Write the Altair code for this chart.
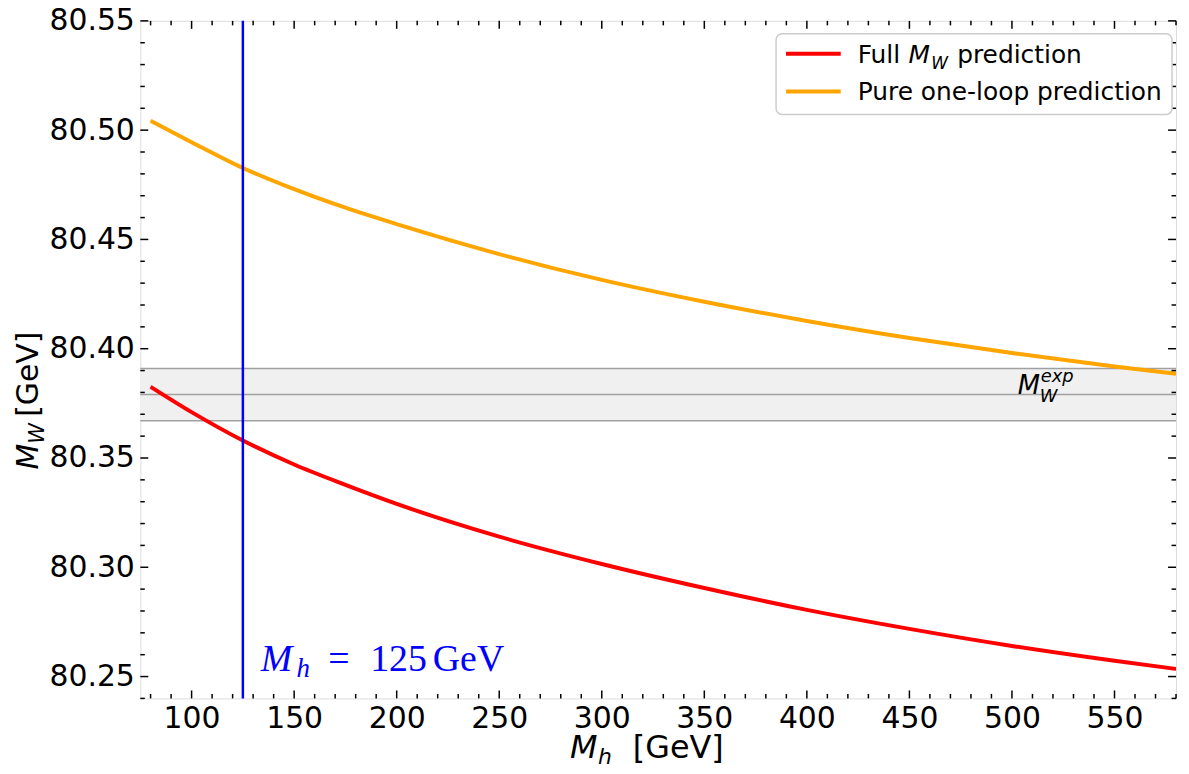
import altair as alt
import pandas as pd

# ---- data ----
mh = [80, 100, 125, 150, 175, 200, 250, 300, 350, 400, 450, 500, 550, 580]
mw_full = [80.3826, 80.371, 80.358, 80.347, 80.3377, 80.329, 80.314, 80.3015, 80.2905, 80.2805, 80.2718, 80.264, 80.2572, 80.2535]
mw_oneloop = [80.5043, 80.4945, 80.4827, 80.473, 80.4645, 80.457, 80.4433, 80.4315, 80.4215, 80.4127, 80.4049, 80.398, 80.3919, 80.3885]
series_names = ["Full", "Pure one-loop"]
series_colors = ["#ff0000", "#ffa500"]
mw_exp = 80.379
mw_exp_err = 0.012
mh_ref = 125
x_major = [100, 150, 200, 250, 300, 350, 400, 450, 500, 550]
x_minor = [v for v in range(80, 581, 10) if v % 50 != 0]
y_major = [80.25, 80.30, 80.35, 80.40, 80.45, 80.50, 80.55]
y_minor = [round(80.24 + 0.01 * i, 2) for i in range(32)]
y_minor = [v for v in y_minor if round(v * 100) % 5 != 0]
XDOM = [75, 580]
YDOM = [80.24, 80.55]

W, H = 1041, 681

rows = []
for name, vals in zip(series_names, [mw_full, mw_oneloop]):
    for x, y in zip(mh, vals):
        rows.append({"mh": x, "mw": y, "series": name})
df = pd.DataFrame(rows)

xs = alt.Scale(domain=XDOM, nice=False, zero=False)
ys = alt.Scale(domain=YDOM, nice=False, zero=False)

one = pd.DataFrame({"a": [0]})

band = alt.Chart(pd.DataFrame({"lo": [mw_exp - mw_exp_err], "hi": [mw_exp + mw_exp_err]})).mark_rect(
    color="#f0f0f0").encode(
    y=alt.Y("lo:Q", scale=ys), y2="hi:Q", x=alt.value(0), x2=alt.value(W))
band_lines = alt.Chart(pd.DataFrame({"v": [mw_exp - mw_exp_err, mw_exp, mw_exp + mw_exp_err]})).mark_rule(
    color="#a0a0a0", strokeWidth=1.5).encode(y=alt.Y("v:Q", scale=ys))

lines = alt.Chart(df).mark_line(strokeWidth=4, clip=True, interpolate="monotone").encode(
    x=alt.X("mh:Q", scale=xs,
            axis=alt.Axis(values=x_major, format="d", title=None, ticks=False, domain=False, grid=False,
                          labelFontSize=30, labelFont="DejaVu Sans", labelColor="black", labelPadding=5)),
    y=alt.Y("mw:Q", scale=ys,
            axis=alt.Axis(values=y_major, format=".2f", title=None, ticks=False, domain=False, grid=False,
                          labelFontSize=30, labelFont="DejaVu Sans", labelColor="black", labelPadding=6)),
    color=alt.Color("series:N", scale=alt.Scale(domain=series_names, range=series_colors), legend=None),
    order="mh:Q",
)

vline = alt.Chart(pd.DataFrame({"x": [mh_ref]})).mark_rule(color="#0000ff", strokeWidth=2.5).encode(
    x=alt.X("x:Q", scale=xs))

# ---- inward ticks on all four sides ----
def xticks(vals, length):
    d = pd.DataFrame({"v": vals})
    b = alt.Chart(d).mark_rule(color="black", strokeWidth=1.5).encode(
        x=alt.X("v:Q", scale=xs), y=alt.value(H), y2=alt.value(H - length))
    t = alt.Chart(d).mark_rule(color="black", strokeWidth=1.5).encode(
        x=alt.X("v:Q", scale=xs), y=alt.value(0), y2=alt.value(length))
    return [b, t]

def yticks(vals, length):
    d = pd.DataFrame({"v": vals})
    l = alt.Chart(d).mark_rule(color="black", strokeWidth=1.5).encode(
        y=alt.Y("v:Q", scale=ys), x=alt.value(0), x2=alt.value(length))
    r = alt.Chart(d).mark_rule(color="black", strokeWidth=1.5).encode(
        y=alt.Y("v:Q", scale=ys), x=alt.value(W), x2=alt.value(W - length))
    return [l, r]

ticks = xticks(x_major, 8) + xticks(x_minor, 4.5) + yticks(y_major, 8) + yticks(y_minor, 4.5)

# ---- text helper ----
def txt(s, x, y, size, italic=False, font="DejaVu Sans", color="black", angle=0, baseline="alphabetic"):
    props = dict(text=s, fontSize=size, font=font, color=color, baseline=baseline, align="left",
                 fontStyle="italic" if italic else "normal")
    if angle:
        props["angle"] = angle
    return alt.Chart(one).mark_text(**props).encode(x=alt.value(x), y=alt.value(y))

texts = []
# y-axis title (rotated)
texts += [
    txt("M", -103, 451, 30, italic=True, angle=270),
    txt("W", -97, 425, 21, italic=True, angle=270),
    txt("[GeV]", -103, 398, 30, angle=270),
]
# x-axis title
texts += [
    txt("M", 432, 741, 32, italic=True),
    txt("h", 460, 747, 22, italic=True),
    txt("[GeV]", 495, 741, 32),
]
# band label
texts += [
    txt("M", 882, 375, 26, italic=True),
    txt("W", 904, 383, 18, italic=True),
    txt("exp", 905, 363, 18, italic=True),
]
# blue annotation
blue = "#0000ff"
texts += [
    txt("M", 121, 653, 38, italic=True, font="Liberation Serif", color=blue),
    txt("h", 157, 659, 27, italic=True, font="Liberation Serif", color=blue),
    txt("=", 189, 653, 38, font="Liberation Serif", color=blue),
    txt("125", 231, 653, 38, font="Liberation Serif", color=blue),
    txt("GeV", 294, 653, 38, font="Liberation Serif", color=blue),
]

# ---- manual legend ----
legend_box = alt.Chart(one).mark_rect(fill="white", fillOpacity=0.85, stroke="#cccccc", strokeWidth=1.5,
                                      cornerRadius=6).encode(
    x=alt.value(639), x2=alt.value(1037), y=alt.value(13), y2=alt.value(94))
leg_df = pd.DataFrame({"series": series_names, "ypos": [33, 71]})
legend_lines = alt.Chart(leg_df).mark_rule(strokeWidth=4).encode(
    x=alt.value(649), x2=alt.value(704), y=alt.Y("ypos:Q", scale=None),
    color=alt.Color("series:N", scale=alt.Scale(domain=series_names, range=series_colors), legend=None))
legend_texts = [
    txt("Full", 721, 42, 25),
    txt("M", 772, 42, 25, italic=True),
    txt("W", 795, 48, 17, italic=True),
    txt("prediction", 821, 42, 25),
    txt("Pure one-loop prediction", 721, 80, 25),
]

chart = alt.layer(
    band, band_lines, lines, vline, *ticks, *texts, legend_box, legend_lines, *legend_texts
).properties(
    width=W, height=H,
    autosize=alt.AutoSizeParams(type="none"),
    padding={"left": 133, "top": 11, "right": 5, "bottom": 66},
).configure_view(stroke="black", strokeWidth=1.8).configure(background="white")

chart.save("out.html", embed_options={"renderer": "svg", "actions": False})
